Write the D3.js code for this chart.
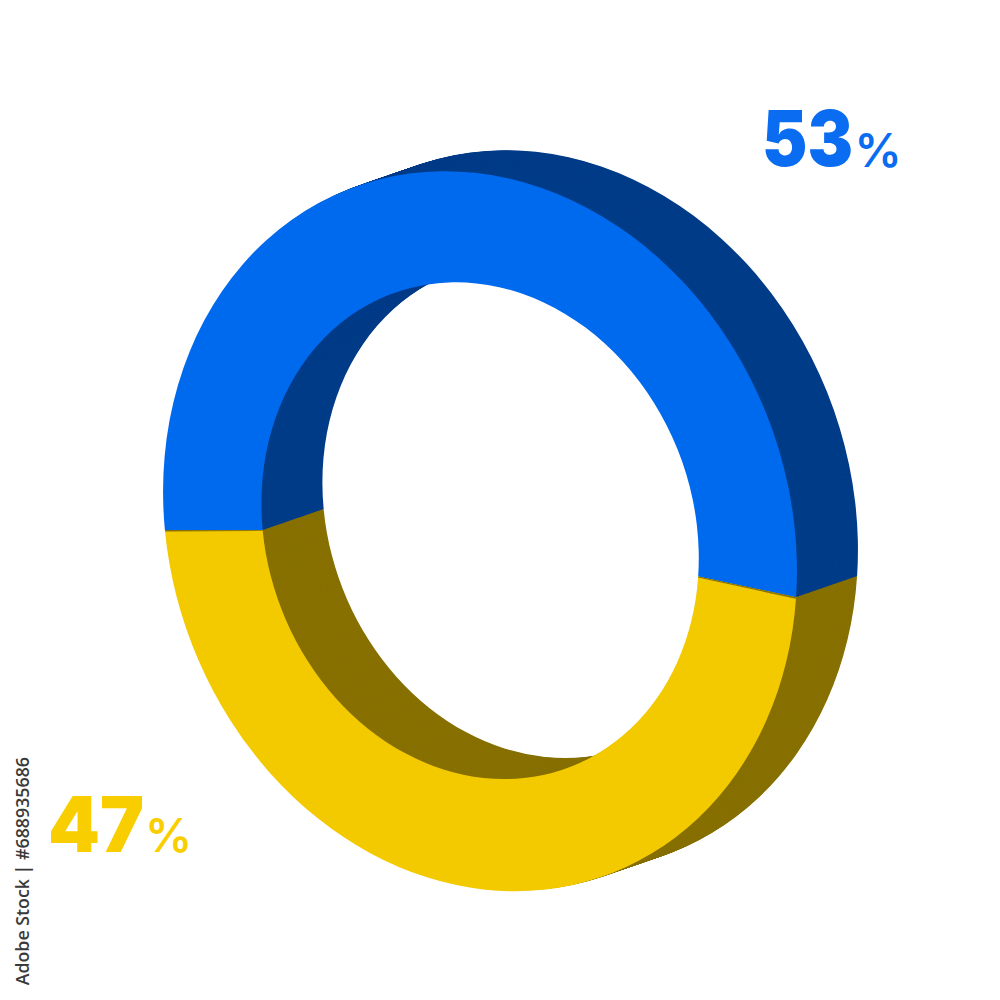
<!DOCTYPE html>
<html>
<head>
<meta charset="utf-8">
<script src="https://cdnjs.cloudflare.com/ajax/libs/d3/7.8.5/d3.min.js"></script>
<style>html,body{margin:0;padding:0;background:#fff}svg{display:block}</style>
</head>
<body>
<svg id="c" width="1000" height="1000"></svg>
<script>
const categories = ["Blue", "Yellow"];
const values = [53, 47];
const faceColors = ["#006AEE", "#F3C900"];
const wallColors = ["#003C88", "#877000"];
const labelColors = ["#0A6CF0", "#F9CE00"];
const numberBoxes = [[762, 165.5, 91], [48, 851.5, 96]];
const percentBoxes = [[854.5, 166.5], [145, 852]];
const creditText = "Adobe Stock | #688935686";

const svg = d3.select("#c");
const M = [316.4, 18.6, 18.6, 359.5];   // circle -> sheared ellipse
const centre = [480, 530];
const depth = [61, -21];
const innerRatio = 0.69;
const startAngle = -1.6225;
const steps = 64;

const pie = d3.pie().sort(null).value(d => d.value)
  .startAngle(startAngle).endAngle(startAngle + 2 * Math.PI);
const slices = pie(categories.map((c, i) => ({ name: c, value: values[i], i })));
const arc = d3.arc().innerRadius(innerRatio).outerRadius(1);
const matrix = (dx, dy) =>
  `matrix(${M[0]},${M[1]},${M[2]},${M[3]},${centre[0] + dx},${centre[1] + dy})`;

const tScale = d3.scaleLinear().domain([0, steps]).range([1, 0.03]);

// extruded walls: yellow first, blue on top
[1, 0].forEach(idx => {
  const g = svg.append("g");
  g.selectAll("path").data(d3.range(0, steps + 1)).join("path")
    .attr("d", arc(slices[idx]))
    .attr("transform", s => matrix(depth[0] * tScale(s), depth[1] * tScale(s)))
    .attr("fill", wallColors[idx]);
});

// front faces
const front = svg.append("g").attr("transform", matrix(0, 0));
front.append("path").attr("d", arc(slices[0])).attr("fill", faceColors[0]);
front.append("path").attr("d", arc(slices[1])).attr("fill", faceColors[1]);

// thin dark seams where the two faces meet
const seam = 0.004;
[slices[1].startAngle, slices[1].endAngle - seam].forEach(a => {
  front.append("path")
    .attr("d", arc({ startAngle: a, endAngle: a + seam }))
    .attr("fill", wallColors[1]);
});

// percentage labels
values.forEach((v, i) => {
  const num = svg.append("text")
    .attr("font-family", "Inter, 'Noto Sans', sans-serif")
    .attr("font-size", 77).attr("font-weight", 900)
    .attr("fill", labelColors[i]).text(v);
  const natural = num.node().getComputedTextLength();
  num.attr("transform",
    `translate(${numberBoxes[i][0]},${numberBoxes[i][1]}) scale(${numberBoxes[i][2] / natural},1)`);
  svg.append("text")
    .attr("x", percentBoxes[i][0]).attr("y", percentBoxes[i][1])
    .attr("font-family", "Inter, 'Noto Sans', sans-serif")
    .attr("font-size", 47).attr("font-weight", 600)
    .attr("fill", labelColors[i]).text("%");
});

// credit line
svg.append("text")
  .attr("transform", "translate(29,757) rotate(-90)")
  .attr("text-anchor", "end")
  .attr("font-family", "'Open Sans', sans-serif")
  .attr("font-size", 17.8)
  .attr("font-weight", 600)
  .attr("fill", "#3a3a3a")
  .text(creditText);
</script>
</body>
</html>
